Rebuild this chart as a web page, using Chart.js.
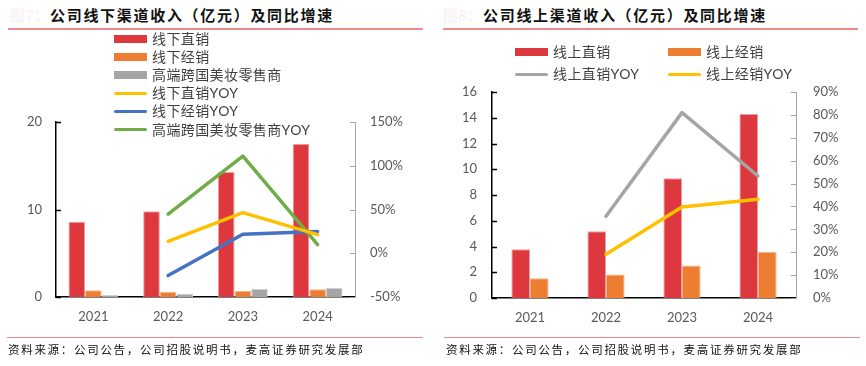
<!DOCTYPE html>
<html>
<head>
<meta charset="utf-8">
<script src="https://cdn.jsdelivr.net/npm/chart.js@4/dist/chart.umd.min.js"></script>
<style>
  html, body { margin:0; padding:0; background:#fff; }
  #wrap { position:relative; width:866px; height:366px; overflow:hidden; background:#fff; }
  canvas { position:absolute; top:0; }
  .title { position:absolute; top:4px; font-family:"Noto Sans CJK SC", sans-serif; font-weight:700; font-size:15px; letter-spacing:1.7px; color:#111; line-height:22px; white-space:nowrap; }
  .prefix { position:absolute; top:4px; font-family:"Noto Sans CJK SC", sans-serif; font-weight:700; font-size:15px; color:#f8f4f4; line-height:22px; }
  .rule { position:absolute; height:1.5px; background:#ea8a8d; }
  .foot { position:absolute; top:341px; font-family:"Noto Sans CJK SC", sans-serif; font-size:11.5px; letter-spacing:1.7px; color:#111; line-height:16px; white-space:nowrap; }
  .leg { position:absolute; font-family:Lato, "Noto Sans CJK SC", sans-serif; font-size:14px; letter-spacing:0.4px; color:#404040; line-height:18px; white-space:nowrap; }
  .sw { position:absolute; }
</style>
</head>
<body>
<div id="wrap">
  <div class="prefix" style="left:10px">图7：</div>
  <div class="title" style="left:50px">公司线下渠道收入（亿元）及同比增速</div>
  <div class="rule" style="left:8px; width:415px; top:28px"></div>
  <div class="prefix" style="left:443px">图8：</div>
  <div class="title" style="left:483px">公司线上渠道收入（亿元）及同比增速</div>
  <div class="rule" style="left:443px; width:415px; top:28px"></div>

  <canvas id="c1" width="433" height="345" style="left:0px"></canvas>
  <canvas id="c2" width="433" height="345" style="left:433px"></canvas>

  <div class="rule" style="left:7px; width:416px; top:336.5px"></div>
  <div class="rule" style="left:444px; width:416px; top:336.5px"></div>
  <div class="foot" style="left:8px">资料来源：公司公告，公司招股说明书，麦高证券研究发展部</div>
  <div class="foot" style="left:446px">资料来源：公司公告，公司招股说明书，麦高证券研究发展部</div>
</div>
<script>
// ---------- data ----------
const years = ['2021', '2022', '2023', '2024'];

// offline (亿元)
const offDirect   = [8.6, 9.8, 14.3, 17.5];
const offDistrib  = [0.77, 0.57, 0.69, 0.88];
const offRetail   = [0.23, 0.38, 0.91, 1.03];
// offline YOY (%)
const offDirectYoy  = [null, 13.7, 46.5, 21.3];
const offDistribYoy = [null, -25.5, 21.7, 24.8];
const offRetailYoy  = [null, 44.6, 111, 9.9];

// online (亿元)
const onDirect  = [3.78, 5.18, 9.3, 14.3];
const onDistrib = [1.53, 1.82, 2.52, 3.57];
// online YOY (%)
const onDirectYoy  = [null, 35.7, 81, 53.3];
const onDistribYoy = [null, 19.1, 39.8, 43.1];

// axis tick settings
const offLeftTicks  = { min: 0, max: 20, step: 10 };
const offRightTicks = { min: -50, max: 150, step: 50 };
const onLeftTicks   = { min: 0, max: 16, step: 2 };
const onRightTicks  = { min: 0, max: 90, step: 10 };

// ---------- styles ----------
const RED = '#dc383e', ORANGE = '#ed7d31', GRAY = '#a5a5a5', YELLOW = '#ffc000', BLUE = '#4472c4', GREEN = '#70ad47';
Chart.defaults.font.family = 'Lato, "Noto Sans CJK SC", sans-serif';
Chart.defaults.color = '#595959';

function barDs(label, data, color, edge) {
  return { type: 'bar', label, data, backgroundColor: color, borderColor: edge, borderWidth: 1,
           yAxisID: 'y', order: 2 };
}
function lineDs(label, data, color) {
  return { type: 'line', label, data, borderColor: color, backgroundColor: color, borderWidth: 3.5,
           borderCapStyle: 'round', borderJoinStyle: 'round', pointRadius: 0, tension: 0,
           yAxisID: 'y1', order: 1, spanGaps: false };
}

// inside tick marks on the y axes
const innerTicks = {
  id: 'innerTicks',
  afterDraw(chart) {
    const ctx = chart.ctx, ca = chart.chartArea;
    ['y', 'y1'].forEach(id => {
      const s = chart.scales[id];
      const left = s.position === 'left';
      const x = left ? ca.left : ca.right;
      ctx.save();
      ctx.strokeStyle = left ? '#000' : '#a6a6a6';
      ctx.lineWidth = left ? 1.5 : 1;
      s.ticks.forEach(t => {
        const y = Math.round(s.getPixelForValue(t.value)) + 0.5;
        ctx.beginPath();
        ctx.moveTo(x, y);
        ctx.lineTo(x + (left ? 5 : -5), y);
        ctx.stroke();
      });
      ctx.restore();
    });
  }
};

function makeChart(id, datasets, cfg) {
  return new Chart(document.getElementById(id), {
    data: { labels: years, datasets },
    options: {
      responsive: false, animation: false, devicePixelRatio: 1,
      layout: { padding: { top: cfg.top, left: 0, right: 0, bottom: 0 } },
      datasets: { bar: { categoryPercentage: cfg.catPct, barPercentage: 1 } },
      plugins: { legend: { display: false }, tooltip: { enabled: false } },
      scales: {
        x: {
          grid: { display: false, drawTicks: false },
          border: { display: true, color: '#000', width: 1.5 },
          ticks: { font: { size: 13 }, color: '#595959', padding: 12 },
          afterFit(s) { s.height = cfg.xh; }
        },
        y: {
          position: 'left', min: cfg.lt.min, max: cfg.lt.max,
          grid: { display: false, drawTicks: false },
          border: { display: true, color: '#000', width: 1.5 },
          ticks: { stepSize: cfg.lt.step, font: { size: 13 }, color: '#595959', padding: cfg.lpad },
          afterFit(s) { s.width = cfg.lw; }
        },
        y1: {
          position: 'right', min: cfg.rt.min, max: cfg.rt.max,
          grid: { display: false, drawTicks: false },
          border: { display: true, color: '#a6a6a6', width: 1 },
          ticks: { stepSize: cfg.rt.step, font: { size: 13 }, color: '#595959', padding: cfg.rpad,
                   callback: v => v + '%' },
          afterFit(s) { s.width = cfg.rw; }
        }
      }
    },
    plugins: [innerTicks]
  });
}

const ch1 = makeChart('c1', [
  barDs('线下直销', offDirect, RED, '#f19a9d'),
  barDs('线下经销', offDistrib, ORANGE, '#f5b58a'),
  barDs('高端跨国美妆零售商', offRetail, GRAY, '#cfcfcf'),
  lineDs('线下直销YOY', offDirectYoy, YELLOW),
  lineDs('线下经销YOY', offDistribYoy, BLUE),
  lineDs('高端跨国美妆零售商YOY', offRetailYoy, GREEN)
], { top: 122, catPct: 0.667, xh: 48, lw: 56, rw: 78, lpad: 14, rpad: 15, lt: offLeftTicks, rt: offRightTicks });

const ch2 = makeChart('c2', [
  barDs('线上直销', onDirect, RED, '#f19a9d'),
  barDs('线上经销', onDistrib, ORANGE, '#f5b58a'),
  lineDs('线上直销YOY', onDirectYoy, GRAY),
  lineDs('线上经销YOY', onDistribYoy, YELLOW)
], { top: 92, catPct: 0.49, xh: 47, lw: 59, rw: 70, lpad: 15, rpad: 17, lt: onLeftTicks, rt: onRightTicks });

// ---------- HTML legends built from chart datasets ----------
const wrap = document.getElementById('wrap');
function addLegend(chart, positions) {
  chart.data.datasets.forEach((ds, i) => {
    const p = positions[i];
    const sw = document.createElement('div');
    sw.className = 'sw';
    const isBar = ds.type === 'bar';
    const h = isBar ? 8 : 3.5;
    sw.style.left = p.x + 'px';
    sw.style.top = (p.y - h / 2) + 'px';
    sw.style.width = '33px';
    sw.style.height = h + 'px';
    sw.style.background = isBar ? ds.backgroundColor : ds.borderColor;
    if (!isBar) sw.style.borderRadius = '2px';
    wrap.appendChild(sw);
    const t = document.createElement('div');
    t.className = 'leg';
    t.textContent = ds.label;
    t.style.left = (p.x + 38) + 'px';
    t.style.top = (p.y - 9) + 'px';
    wrap.appendChild(t);
  });
}
addLegend(ch1, [
  { x: 114, y: 38.5 }, { x: 114, y: 56.7 }, { x: 114, y: 75 },
  { x: 114, y: 93.3 }, { x: 114, y: 111.3 }, { x: 114, y: 129.5 }
]);
addLegend(ch2, [
  { x: 515, y: 51.5 }, { x: 668, y: 51.5 }, { x: 515, y: 74.3 }, { x: 668, y: 74.3 }
]);
</script>
</body>
</html>
